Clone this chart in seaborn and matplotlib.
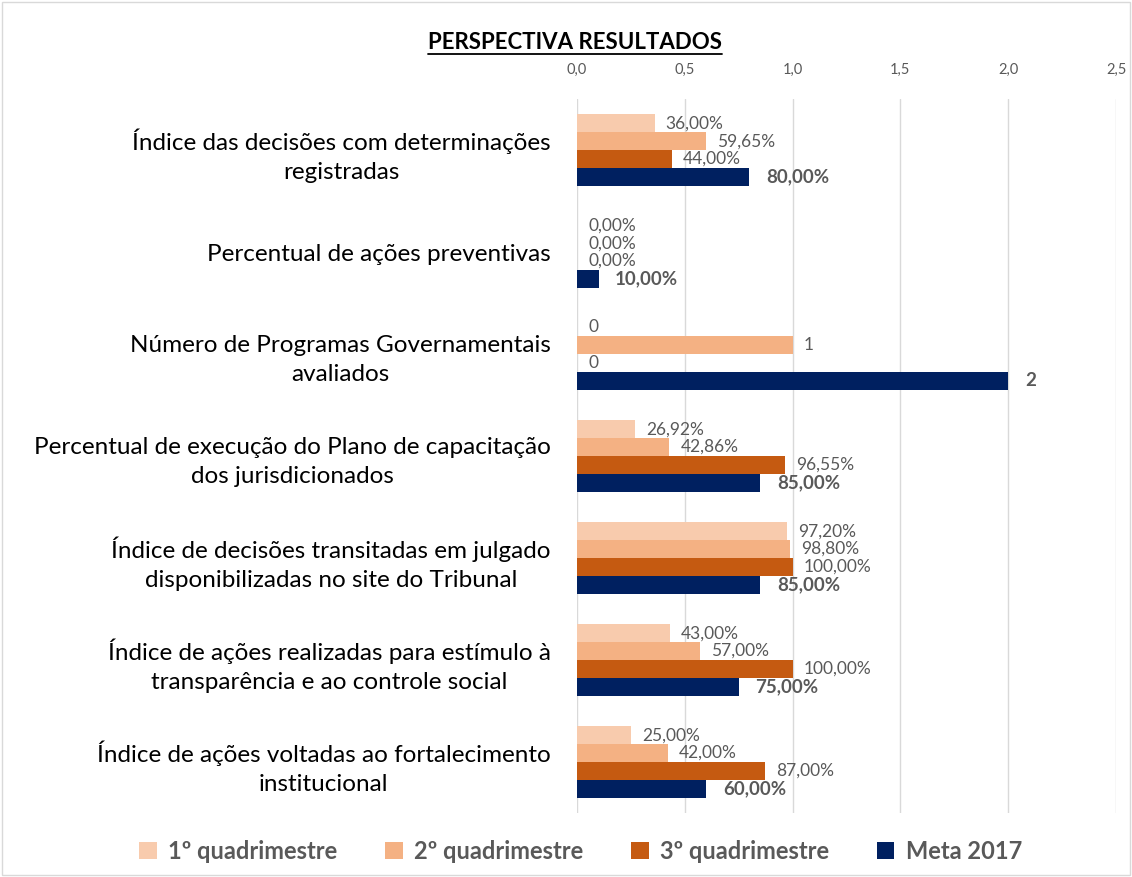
import pandas as pd
import numpy as np
import seaborn as sns
import matplotlib.pyplot as plt
from matplotlib.patches import Rectangle
from matplotlib.lines import Line2D

categories = [
    'Índice das decisões com determinações\nregistradas',
    'Percentual de ações preventivas',
    'Número de Programas Governamentais\navaliados',
    'Percentual de execução do Plano de capacitação\ndos jurisdicionados',
    'Índice de decisões transitadas em julgado\ndisponibilizadas no site do Tribunal',
    'Índice de ações realizadas para estímulo à\ntransparência e ao controle social',
    'Índice de ações voltadas ao fortalecimento\ninstitucional',
]
series = ['1º quadrimestre', '2º quadrimestre', '3º quadrimestre', 'Meta 2017']
q1 = [0.36, 0.0, 0, 0.2692, 0.972, 0.43, 0.25]
q2 = [0.5965, 0.0, 1, 0.4286, 0.988, 0.57, 0.42]
q3 = [0.44, 0.0, 0, 0.9655, 1.0, 1.0, 0.87]
meta = [0.80, 0.10, 2, 0.85, 0.85, 0.75, 0.60]
is_count = [False, False, True, False, False, False, False]   # row shown as plain integer
colors = ['#F8CBAD', '#F4B183', '#C55A11', '#002060']

df = pd.DataFrame({
    'Indicador': categories * 4,
    'Serie': np.repeat(series, len(categories)),
    'Valor': q1 + q2 + q3 + meta,
})

sns.set_style('white')
plt.rcParams['font.family'] = ['Lato', 'DejaVu Sans']

fig = plt.figure(figsize=(11.32, 8.77), dpi=100)
ax = fig.add_axes([0.5097, 0.073, 0.4762, 0.814])

sns.barplot(data=df, y='Indicador', x='Valor', hue='Serie', orient='h',
            palette=colors, width=0.7, saturation=1, linewidth=0, ax=ax)

def fmt(v, count):
    if count:
        return f'{v:.0f}'
    return f'{v*100:.2f}%'.replace('.', ',')

for i, cont in enumerate(ax.containers):
    vals = [q1, q2, q3, meta][i]
    labels = [fmt(v, c) for v, c in zip(vals, is_count)]
    bold = i == 3
    ax.bar_label(cont, labels=labels, padding=12 if bold else 8,
                 fontsize=13.5 if bold else 12.5, color='#595959',
                 fontweight='bold' if bold else 'normal')

ax.set_xlim(0, 2.5)
ax.set_xticks(np.arange(0, 2.51, 0.5))
ax.set_xticklabels([f'{t:.1f}'.replace('.', ',') for t in np.arange(0, 2.51, 0.5)])
ax.xaxis.tick_top()
ax.tick_params(axis='x', length=0, pad=16, labelsize=10.5, labelcolor='#595959')
ax.tick_params(axis='y', length=0, pad=19, labelsize=17.5, labelcolor='#000000')
for t in ax.get_yticklabels():
    t.set_multialignment('center')
    t.set_linespacing(1.45)
ax.grid(axis='x', color='#D9D9D9', linewidth=1)
ax.set_axisbelow(True)
for s in ax.spines.values():
    s.set_visible(False)
ax.set_xlabel('')
ax.set_ylabel('')

handles, labs = ax.get_legend_handles_labels()
ax.legend(handles, labs, loc='center', bbox_to_anchor=(0.513, 0.029),
          bbox_transform=fig.transFigure, ncol=4, frameon=False,
          handlelength=0.75, handleheight=0.75, handletextpad=0.5,
          columnspacing=2.0, prop={'size': 17, 'weight': 'bold'},
          labelcolor='#595959')

title = fig.text(0.508, 0.952, 'PERSPECTIVA RESULTADOS', ha='center', va='center',
                 fontsize=16, fontweight='bold', color='#000000')
fig.canvas.draw()
bb = title.get_window_extent().transformed(fig.transFigure.inverted())
fig.add_artist(Line2D([bb.x0, bb.x1], [bb.y0 - 0.002, bb.y0 - 0.002],
                      transform=fig.transFigure, color='black', linewidth=1.3))

fig.add_artist(Rectangle((0.002, 0.002), 0.996, 0.996, transform=fig.transFigure,
                         fill=False, edgecolor='#D9D9D9', linewidth=1))

fig.savefig('out.png', dpi=100)
